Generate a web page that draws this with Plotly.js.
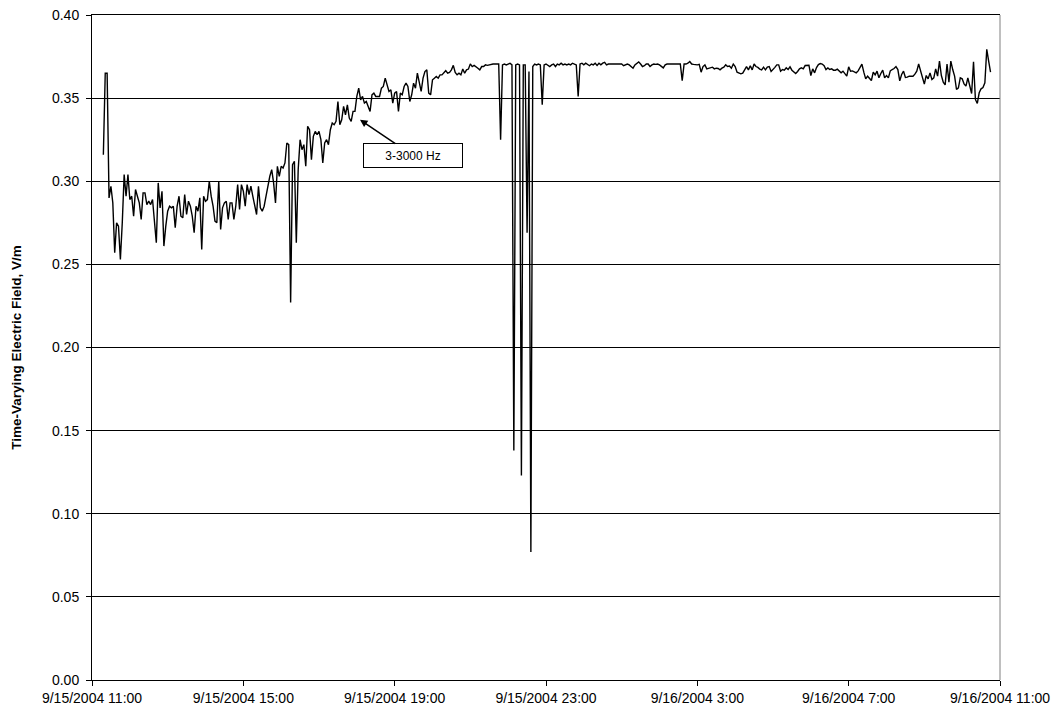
<!DOCTYPE html>
<html>
<head>
<meta charset="utf-8">
<script src="https://cdn.plot.ly/plotly-3.0.1.min.js"></script>
<style>
  html, body { margin: 0; padding: 0; background: #ffffff; }
  #chart { width: 1063px; height: 713px; }
</style>
</head>
<body>
<div id="chart"></div>
<script>
// ---- Data ----
const seriesStart = '2004-09-15 11:18';   // first sample
const sampleMinutes = 3;                   // sampling interval, minutes

// Time-varying electric field (3-3000 Hz), V/m
const fieldValues = [
  // 11:18 - 15:12
  0.316, 0.365, 0.365, 0.290, 0.297, 0.287, 0.257, 0.275, 0.273, 0.253,
  0.275, 0.304, 0.291, 0.304, 0.289, 0.291, 0.279, 0.295, 0.291, 0.287,
  0.277, 0.293, 0.293, 0.286, 0.288, 0.286, 0.289, 0.275, 0.263, 0.299,
  0.284, 0.294, 0.261, 0.273, 0.282, 0.285, 0.284, 0.285, 0.272, 0.285,
  0.291, 0.279, 0.278, 0.292, 0.280, 0.288, 0.285, 0.279, 0.269, 0.285,
  0.282, 0.290, 0.259, 0.291, 0.288, 0.289, 0.300, 0.291, 0.285, 0.276,
  0.275, 0.300, 0.271, 0.284, 0.287, 0.288, 0.277, 0.287, 0.287, 0.277,
  0.285, 0.298, 0.283, 0.298, 0.294, 0.285, 0.298, 0.292, 0.297,
  // 15:15 - 19:18
  0.291, 0.286, 0.280, 0.297, 0.284, 0.282, 0.285, 0.291, 0.298, 0.303,
  0.307, 0.299, 0.287, 0.309, 0.303, 0.309, 0.308, 0.311, 0.323, 0.322,
  0.227, 0.310, 0.312, 0.263, 0.307, 0.325, 0.319, 0.322, 0.309, 0.333,
  0.331, 0.313, 0.327, 0.330, 0.328, 0.330, 0.325, 0.311, 0.323, 0.325,
  0.322, 0.331, 0.335, 0.334, 0.336, 0.348, 0.334, 0.337, 0.345, 0.340,
  0.346, 0.338, 0.336, 0.342, 0.342, 0.351, 0.356, 0.349, 0.351, 0.347,
  0.348, 0.345, 0.342, 0.352, 0.353, 0.351, 0.351, 0.351, 0.356, 0.357,
  0.362, 0.357, 0.354, 0.355, 0.347, 0.353, 0.354, 0.342, 0.353, 0.352,
  0.357, 0.359,
  // 19:21 - 21:45
  0.357, 0.348, 0.352, 0.359, 0.356, 0.365, 0.360, 0.354, 0.362, 0.366,
  0.367, 0.353, 0.352, 0.361, 0.362, 0.363, 0.362, 0.364, 0.364, 0.365,
  0.3665, 0.365, 0.3655, 0.367, 0.3697, 0.3655, 0.364, 0.365, 0.364, 0.3675,
  0.365, 0.367, 0.3675, 0.3706, 0.369, 0.3697, 0.369, 0.368, 0.367, 0.369,
  0.369, 0.370, 0.3697, 0.370, 0.3705, 0.3705, 0.3705, 0.3705, 0.3705,
  // 21:48 - 22:57 (dropouts)
  0.325, 0.370, 0.3705, 0.370, 0.3705, 0.371, 0.370, 0.138, 0.370, 0.3705,
  0.370, 0.123, 0.370, 0.370, 0.269, 0.366, 0.077, 0.369, 0.3705, 0.370,
  0.3705, 0.370, 0.346, 0.370,
  // 23:00 - 23:48
  0.3705, 0.370, 0.369, 0.370, 0.3705, 0.369, 0.3705, 0.370, 0.371, 0.370,
  0.3705, 0.370, 0.3705, 0.370, 0.371, 0.3705, 0.370,
  0.351,
  // 23:54 - 02:15
  0.3705, 0.371, 0.370, 0.371, 0.370, 0.3695, 0.3705, 0.370, 0.371, 0.3697,
  0.371, 0.370, 0.371, 0.3715, 0.370, 0.3705, 0.3705, 0.3705, 0.3703, 0.3705,
  0.3705, 0.3703, 0.3705, 0.3695, 0.370, 0.3705, 0.370, 0.369, 0.368, 0.370,
  0.371, 0.3718, 0.3705, 0.369, 0.3695, 0.3705, 0.3705, 0.369, 0.370, 0.3705,
  0.3703, 0.3705, 0.370, 0.3693, 0.3682, 0.370, 0.3705, 0.3705,
  // 02:18 - 05:09
  0.3705, 0.3703, 0.3705, 0.3705, 0.3703, 0.3705, 0.3605, 0.3705, 0.3705, 0.371,
  0.372, 0.3705, 0.3703, 0.370, 0.370, 0.3703, 0.3656, 0.369, 0.370, 0.3676,
  0.368, 0.368, 0.3686, 0.3676, 0.368, 0.3678, 0.367, 0.368, 0.3686, 0.370,
  0.369, 0.3693, 0.368, 0.3705, 0.369, 0.3656, 0.3652, 0.3646, 0.365, 0.367,
  0.369, 0.367, 0.3695, 0.367, 0.3705, 0.369, 0.3685, 0.3675, 0.367, 0.3686,
  0.367, 0.3686, 0.369, 0.366, 0.367, 0.3685, 0.370, 0.370,
  // 05:12 - 10:45
  0.3662, 0.3672, 0.3668, 0.3682, 0.3672, 0.3688, 0.3668, 0.3658, 0.3648, 0.366,
  0.3676, 0.3682, 0.3676, 0.3696, 0.3696, 0.3698, 0.3636, 0.3676, 0.3652, 0.3684,
  0.3702, 0.3708, 0.3705, 0.3695, 0.3672, 0.3682, 0.3672, 0.3676, 0.3668, 0.3668,
  0.3674, 0.3664, 0.3652, 0.3662, 0.3648, 0.3632, 0.3688, 0.3662, 0.3664, 0.3656,
  0.3652, 0.3664, 0.3688, 0.3705, 0.3656, 0.3616, 0.3632, 0.3616, 0.3606, 0.3656,
  0.364, 0.3662, 0.3622, 0.3648, 0.3668, 0.3622, 0.3636, 0.3622, 0.3664, 0.3672,
  0.3678, 0.369, 0.3672, 0.3604, 0.3642, 0.3662, 0.3624, 0.3626, 0.3632, 0.3632,
  0.3632, 0.3644, 0.3662, 0.3705, 0.3662, 0.3628, 0.3584, 0.3636, 0.3616, 0.3652,
  0.3612, 0.3622, 0.3676, 0.3632, 0.3723, 0.3636, 0.3596, 0.358, 0.3705, 0.3596,
  0.3723, 0.3672, 0.3632, 0.3552, 0.3562, 0.3622, 0.3616, 0.3586, 0.3572, 0.3622,
  0.3582, 0.3528, 0.3719, 0.3492, 0.3468, 0.3532, 0.3556, 0.3564, 0.3592, 0.3793,
  0.3723, 0.3656
];

const xTickTimes  = ['2004-09-15 11:00', '2004-09-15 15:00', '2004-09-15 19:00', '2004-09-15 23:00',
                     '2004-09-16 03:00', '2004-09-16 07:00', '2004-09-16 11:00'];
const xTickLabels = ['9/15/2004 11:00', '9/15/2004 15:00', '9/15/2004 19:00', '9/15/2004 23:00',
                     '9/16/2004 3:00', '9/16/2004 7:00', '9/16/2004 11:00'];
const yTitle = 'Time-Varying Electric Field, V/m';
const bandLabel = '3-3000 Hz';
const labelPointTime = '2004-09-15 18:05';
const labelPointValue = 0.337;

// ---- Build sample times ----
function sampleTimes(start, stepMin, n) {
  const p = start.split(/[- :]/).map(Number);
  const t0 = Date.UTC(p[0], p[1] - 1, p[2], p[3], p[4]);
  const out = [];
  for (let i = 0; i < n; i++) {
    out.push(new Date(t0 + i * stepMin * 60000).toISOString().slice(0, 16).replace('T', ' '));
  }
  return out;
}
const times = sampleTimes(seriesStart, sampleMinutes, fieldValues.length);

const FONT = 'Liberation Sans, Arial, sans-serif';

const trace = {
  x: times,
  y: fieldValues,
  type: 'scatter',
  mode: 'lines',
  line: { color: '#000000', width: 1.4 },
  hoverinfo: 'skip',
  showlegend: false
};

const layout = {
  width: 1063,
  height: 713,
  margin: { l: 92, r: 63, t: 15, b: 33, pad: 0 },
  paper_bgcolor: '#ffffff',
  plot_bgcolor: '#ffffff',
  font: { family: FONT, size: 13, color: '#000000' },
  showlegend: false,
  xaxis: {
    type: 'date',
    range: [xTickTimes[0], xTickTimes[xTickTimes.length - 1]],
    tickmode: 'array',
    tickvals: xTickTimes,
    ticktext: xTickLabels,
    ticks: 'outside',
    ticklen: 5,
    tickcolor: '#000000',
    tickfont: { family: FONT, size: 14, color: '#000000' },
    showgrid: false,
    zeroline: false,
    showline: true,
    linecolor: '#000000',
    linewidth: 1,
    mirror: true,
    fixedrange: true
  },
  yaxis: {
    range: [0, 0.40],
    dtick: 0.05,
    tick0: 0,
    tickformat: '.2f',
    ticks: 'outside',
    ticklen: 5,
    tickcolor: '#000000',
    ticklabelstandoff: 4,
    tickfont: { family: FONT, size: 14, color: '#000000' },
    showgrid: true,
    gridcolor: '#000000',
    gridwidth: 1,
    zeroline: false,
    showline: true,
    linecolor: '#000000',
    linewidth: 1,
    fixedrange: true,
    title: {
      text: yTitle,
      font: { family: FONT, size: 13.5, color: '#000000', weight: 'bold' },
      standoff: 27
    }
  },
  shapes: [
    { type: 'line', xref: 'paper', yref: 'paper', x0: 1, x1: 1, y0: 0, y1: 1,
      line: { color: '#808080', width: 1 } }
  ],
  annotations: [
    {
      x: labelPointTime,
      y: labelPointValue,
      xref: 'x', yref: 'y',
      text: bandLabel,
      showarrow: true,
      arrowhead: 2,
      arrowsize: 1,
      arrowwidth: 1.5,
      arrowcolor: '#000000',
      ax: 53,
      ay: 36,
      font: { family: FONT, size: 12, color: '#000000' },
      bgcolor: '#ffffff',
      bordercolor: '#000000',
      borderwidth: 1,
      width: 96,
      height: 21,
      align: 'center',
      valign: 'middle'
    }
  ]
};

Plotly.newPlot('chart', [trace], layout, { staticPlot: true, displayModeBar: false });
</script>
</body>
</html>
